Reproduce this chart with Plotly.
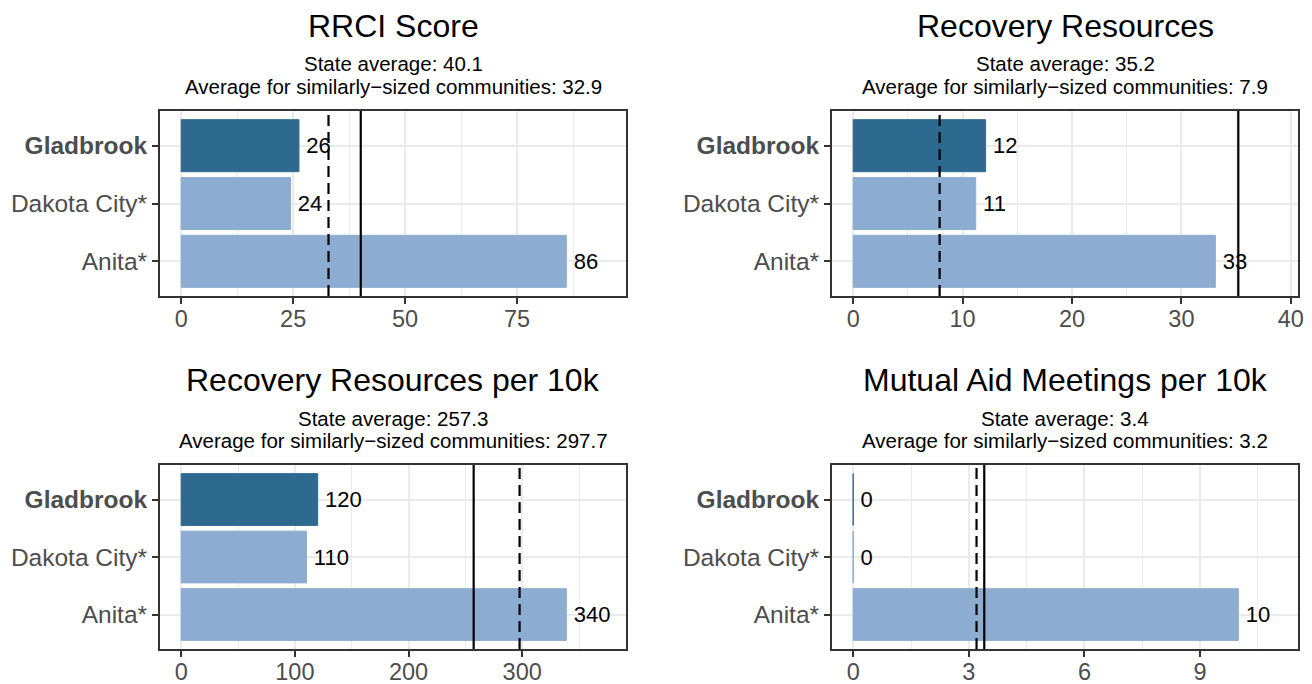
import plotly.graph_objects as go

# ---- data ----
communities = ["Gladbrook", "Dakota City*", "Anita*"]
highlight = "Gladbrook"

panel_titles = ["RRCI Score", "Recovery Resources",
                "Recovery Resources per 10k", "Mutual Aid Meetings per 10k"]

rrci_score = [26.3, 24.4, 86.0]
recovery_resources = [12.1, 11.2, 33.1]
resources_per_10k = [120.1, 110.2, 338.8]
mutual_aid_per_10k = [0.0, 0.0, 9.99]

state_average = [40.1, 35.2, 257.3, 3.4]
similar_average = [32.9, 7.9, 297.7, 3.2]

major_dtick = [25, 10, 100, 3]

series = [rrci_score, recovery_resources, resources_per_10k, mutual_aid_per_10k]

# ---- style ----
PAGE_OFF = 8               # browser default body margin
W, H = 1312 - PAGE_OFF, 684 - PAGE_OFF
FONT = "Liberation Sans, Arial, Helvetica, sans-serif"
DARK = "#2E6A8F"
LIGHT = "#8CADD1"
GRID = "#EBEBEB"
FRAME = "#333333"
TICKC = "#4D4D4D"

# panel frames in page pixels: (left, right, top, bottom)
frames_page = [(160, 626, 111, 296), (832, 1298, 111, 296),
               (160, 626, 465, 649), (832, 1298, 465, 649)]
frames = [(l - PAGE_OFF, r - PAGE_OFF, t - PAGE_OFF, b - PAGE_OFF)
          for (l, r, t, b) in frames_page]


def signif2(v):
    if v == 0:
        return "0"
    from math import log10, floor
    d = 2 - int(floor(log10(abs(v)))) - 1
    r = round(v, d)
    return str(int(round(r))) if r == int(r) else str(r)


fig = go.Figure()
annotations = []
shapes = []
cat_order = communities[::-1]

for i, vals in enumerate(series):
    n = i + 1
    xa = "x" if n == 1 else f"x{n}"
    ya = "y" if n == 1 else f"y{n}"
    colors = [DARK if c == highlight else LIGHT for c in communities]
    fig.add_trace(go.Bar(
        x=vals, y=communities, orientation="h", width=0.9,
        marker=dict(color=colors, line=dict(color=colors, width=1)),
        text=["\u2009" + signif2(v) for v in vals], textposition="outside",
        textfont=dict(size=22, color="black", family=FONT),
        constraintext="none", cliponaxis=False,
        xaxis=xa, yaxis=ya, showlegend=False, hoverinfo="skip"))

    L, R, T, B = frames[i]
    top_lim = max(max(vals), state_average[i], similar_average[i]) * 1.1
    xr = [-0.05 * top_lim, 1.05 * top_lim]
    axis_common = dict(showline=True, mirror=True, linecolor=FRAME, linewidth=2,
                       ticks="outside", ticklen=6, tickwidth=2, tickcolor=FRAME,
                       showgrid=True, gridcolor=GRID, gridwidth=2, zeroline=False,
                       automargin=False)
    fig.layout[f"xaxis{'' if n == 1 else n}"] = dict(
        axis_common, domain=[L / W, R / W], anchor=ya, range=xr,
        tick0=0, dtick=major_dtick[i], ticklabelstandoff=-5,
        tickfont=dict(size=23.5, color=TICKC, family=FONT),
        minor=dict(tick0=0, dtick=major_dtick[i] / 2, showgrid=True,
                   gridcolor=GRID, gridwidth=1, ticks=""))
    fig.layout[f"yaxis{'' if n == 1 else n}"] = dict(
        axis_common, domain=[1 - B / H, 1 - T / H], anchor=xa,
        type="category", categoryorder="array", categoryarray=cat_order,
        range=[-0.6, 2.6], tickmode="array", tickvals=cat_order,
        ticktext=[f"<b>{c}</b>" if c == highlight else c for c in cat_order],
        tickfont=dict(size=24.5, color=TICKC, family=FONT))

    xd = "x" if n == 1 else f"x{n}"
    yd = ("y" if n == 1 else f"y{n}") + " domain"
    shapes.append(dict(type="line", xref=xd, yref=yd, x0=state_average[i], x1=state_average[i],
                       y0=0, y1=1, line=dict(color="black", width=2.2)))
    shapes.append(dict(type="line", xref=xd, yref=yd, x0=similar_average[i], x1=similar_average[i],
                       y0=0, y1=1, line=dict(color="black", width=2.2, dash="11px,6px")))

    cx = (L + R) / 2 / W
    annotations.append(dict(text=panel_titles[i], x=cx, y=1 - (T - 85) / H, xref="paper",
                            yref="paper", showarrow=False, xanchor="center", yanchor="middle",
                            font=dict(size=32, color="black", family=FONT)))
    annotations.append(dict(text=f"State average: {state_average[i]}", x=cx,
                            y=1 - (T - 47) / H, xref="paper", yref="paper", showarrow=False,
                            xanchor="center", yanchor="middle",
                            font=dict(size=20.5, color="black", family=FONT)))
    annotations.append(dict(text=f"Average for similarly\u2212sized communities: {similar_average[i]}",
                            x=cx, y=1 - (T - 25) / H, xref="paper", yref="paper", showarrow=False,
                            xanchor="center", yanchor="middle",
                            font=dict(size=20.5, color="black", family=FONT)))

fig.update_layout(width=W, height=H, margin=dict(l=0, r=0, t=0, b=0, autoexpand=False),
                  paper_bgcolor="white", plot_bgcolor="white",
                  annotations=annotations, shapes=shapes,
                  font=dict(family=FONT))

fig.write_html("out.html")
